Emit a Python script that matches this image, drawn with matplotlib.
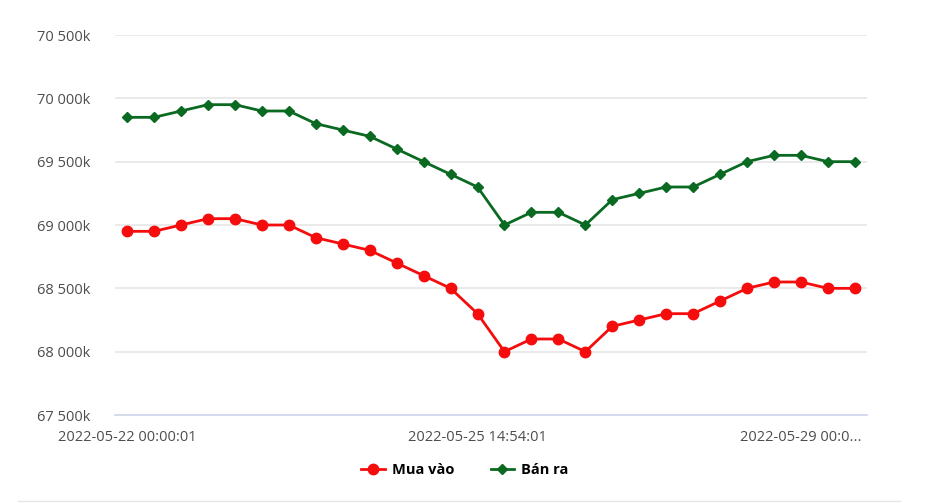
import numpy as np
from matplotlib import pyplot as plt
from matplotlib.lines import Line2D
from matplotlib.ticker import FuncFormatter

plt.rcParams['font.family'] = ['Open Sans', 'DejaVu Sans']

# giá vàng (nghìn đồng)
mua_vao = [68950, 68950, 69000, 69050, 69050, 69000, 69000, 68900, 68850, 68800,
           68700, 68600, 68500, 68300, 68000, 68100, 68100, 68000, 68200, 68250,
           68300, 68300, 68400, 68500, 68550, 68550, 68500, 68500]
ban_ra = [69850, 69850, 69900, 69950, 69950, 69900, 69900, 69800, 69750, 69700,
          69600, 69500, 69400, 69300, 69000, 69100, 69100, 69000, 69200, 69250,
          69300, 69300, 69400, 69500, 69550, 69550, 69500, 69500]
tick_idx = [0, 13, 25]
tick_labels = ["2022-05-22 00:00:01", "2022-05-25 14:54:01", "2022-05-29 00:0..."]
y_ticks = [67500, 68000, 68500, 69000, 69500, 70000, 70500]

RED = "#f50d0d"
GREEN = "#0b6a22"

fig = plt.figure(figsize=(9.3, 5.03), dpi=100)
ax = fig.add_axes([115 / 930, 1 - 415 / 503, (867 - 115) / 930, (415 - 35) / 503])

x = np.arange(len(mua_vao))
ax.plot(x, mua_vao, color=RED, linewidth=2, marker='o', markersize=7.5, label="Mua vào", zorder=3)
ax.plot(x, ban_ra, color=GREEN, linewidth=2, marker='D', markersize=5.5, label="Bán ra", zorder=3)

ax.set_ylim(67500, 70500)
ax.set_xlim(-0.45, len(x) - 0.55)
ax.set_yticks(y_ticks)
ax.yaxis.set_major_formatter(FuncFormatter(lambda v, p: "{:,}k".format(int(v)).replace(",", " ")))
ax.set_xticks(tick_idx)
ax.set_xticklabels(tick_labels)

ax.grid(axis='y', color='#e6e6e6', linewidth=1.2)
ax.set_axisbelow(True)
for s in ['top', 'right', 'left']:
    ax.spines[s].set_visible(False)
ax.spines['bottom'].set_color('#ccd6eb')
ax.spines['bottom'].set_linewidth(1.2)
ax.tick_params(axis='both', length=0, labelsize=10.5, colors='#4d4d4d')
ax.tick_params(axis='y', pad=18)
ax.tick_params(axis='x', pad=11)

fig.legend(loc='center', bbox_to_anchor=(0.5, 1 - 470 / 503), ncol=2, frameon=False,
           prop={'size': 10.5, 'weight': 'bold'}, handlelength=1.6, columnspacing=2.5,
           handletextpad=0.5)

fig.add_artist(Line2D([18 / 930, 900 / 930], [0.004, 0.004], color='#e6e6e6', linewidth=1))

plt.savefig("out.png", dpi=100)
